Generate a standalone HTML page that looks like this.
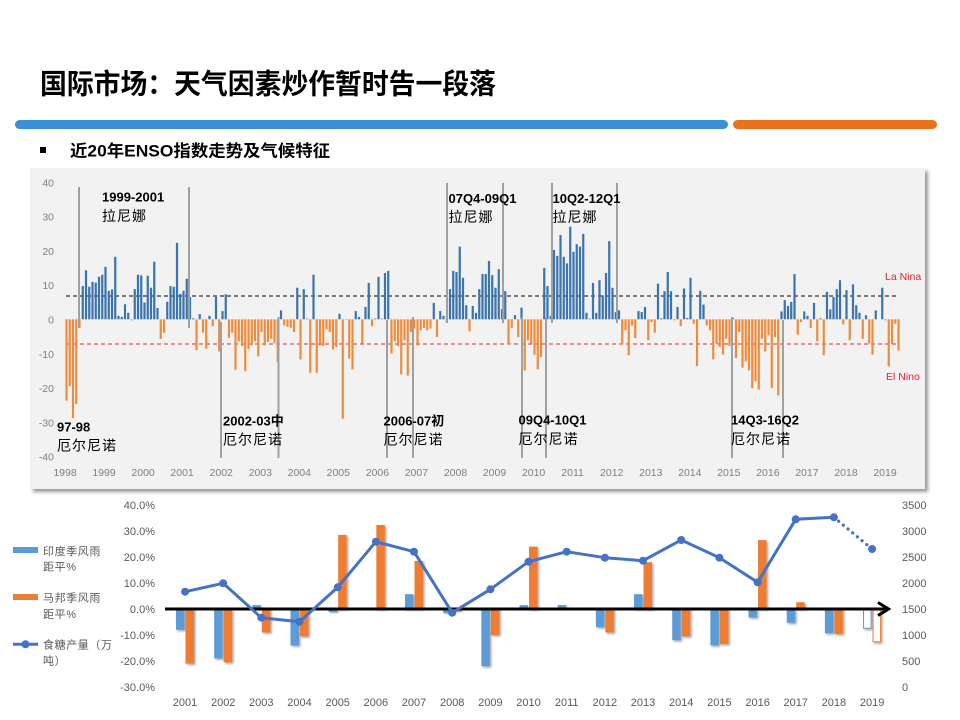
<!DOCTYPE html>
<html><head><meta charset="utf-8">
<style>
html,body{margin:0;padding:0;background:#fff;width:960px;height:720px;overflow:hidden;}
svg{display:block;}
text{font-family:"Liberation Sans","Noto Sans CJK SC",sans-serif;}
.cjk{font-family:"Noto Sans CJK SC",sans-serif;}
</style></head>
<body>
<svg id="s" width="960" height="720" viewBox="0 0 960 720" xmlns="http://www.w3.org/2000/svg">
<defs>
<filter id="sh" x="-5%" y="-5%" width="110%" height="115%"><feGaussianBlur stdDeviation="1.8"/></filter>
<filter id="bs" x="-60%" y="-20%" width="220%" height="150%"><feDropShadow dx="1.5" dy="1.5" stdDeviation="1" flood-color="#000" flood-opacity="0.35"/></filter>
</defs>
<rect width="960" height="720" fill="#fff"/>

<!-- header -->
<text x="40" y="93.5" font-size="28" font-weight="bold" textLength="456" lengthAdjust="spacingAndGlyphs" fill="#000">国际市场：天气因素炒作暂时告一段落</text>
<rect x="15" y="120" width="713" height="9" rx="4.5" fill="#3b8fd6"/>
<rect x="733" y="120" width="204" height="9" rx="4.5" fill="#e8731f"/>
<rect x="40" y="147" width="6" height="6" fill="#000"/>
<text x="70" y="156.5" font-size="16.5" font-weight="bold" textLength="260" lengthAdjust="spacingAndGlyphs" fill="#000">近20年ENSO指数走势及气候特征</text>

<!-- top panel -->
<rect x="33" y="171" width="895" height="321" fill="#777" opacity="0.75" filter="url(#sh)"/>
<rect x="30" y="168" width="895" height="321" fill="#f2f2f2"/>

<g font-size="10.5" fill="#7f7f7f" text-anchor="end">
<text x="54" y="186.3">40</text>
<text x="54" y="220.6">30</text>
<text x="54" y="254.9">20</text>
<text x="54" y="289.2">10</text>
<text x="54" y="323.5">0</text>
<text x="54" y="357.8">-10</text>
<text x="54" y="392.1">-20</text>
<text x="54" y="426.4">-30</text>
<text x="54" y="460.7">-40</text>
</g>
<g id="xl" font-size="10.5" fill="#7f7f7f" text-anchor="middle"></g>

<line x1="66" y1="296" x2="897" y2="296" stroke="#000" stroke-width="1" stroke-dasharray="4 3"/>
<line x1="66" y1="344" x2="897" y2="344" stroke="#e0282a" stroke-width="1" stroke-dasharray="4 3"/>

<g id="bars"></g>

<g stroke="#a0a0a0" stroke-width="2">
<line x1="79" y1="187" x2="79" y2="328"/>
<line x1="189" y1="187" x2="189" y2="328"/>
<line x1="221" y1="322" x2="221" y2="458"/>
<line x1="278.5" y1="317" x2="278.5" y2="458"/>
<line x1="387" y1="320" x2="387" y2="458"/>
<line x1="413" y1="317" x2="413" y2="458"/>
<line x1="447" y1="183" x2="447" y2="323"/>
<line x1="503" y1="183" x2="503" y2="323"/>
<line x1="522" y1="317" x2="522" y2="458"/>
<line x1="546" y1="317" x2="546" y2="458"/>
<line x1="552" y1="183" x2="552" y2="323"/>
<line x1="617" y1="183" x2="617" y2="323"/>
<line x1="732" y1="317" x2="732" y2="458"/>
<line x1="783" y1="320" x2="783" y2="458"/>
</g>

<g fill="#000">
<text x="102" y="201.7" font-size="13" font-weight="bold">1999-2001</text>
<text x="102" y="221" font-size="14" class="cjk" letter-spacing="1">拉尼娜</text>
<text x="57" y="431.4" font-size="13" font-weight="bold">97-98</text>
<text x="57" y="450.3" font-size="14" class="cjk" letter-spacing="1">厄尔尼诺</text>
<text x="223" y="425.4" font-size="13" font-weight="bold">2002-03中</text>
<text x="223" y="444.3" font-size="14" class="cjk" letter-spacing="1">厄尔尼诺</text>
<text x="383.5" y="425.4" font-size="13" font-weight="bold">2006-07初</text>
<text x="383.5" y="444.3" font-size="14" class="cjk" letter-spacing="1">厄尔尼诺</text>
<text x="448.5" y="203" font-size="13" font-weight="bold">07Q4-09Q1</text>
<text x="448.5" y="222" font-size="14" class="cjk" letter-spacing="1">拉尼娜</text>
<text x="552.5" y="203" font-size="13" font-weight="bold">10Q2-12Q1</text>
<text x="552.5" y="222" font-size="14" class="cjk" letter-spacing="1">拉尼娜</text>
<text x="518.5" y="424.7" font-size="13" font-weight="bold">09Q4-10Q1</text>
<text x="518.5" y="444" font-size="14" class="cjk" letter-spacing="1">厄尔尼诺</text>
<text x="731" y="424.7" font-size="13" font-weight="bold">14Q3-16Q2</text>
<text x="731" y="444" font-size="14" class="cjk" letter-spacing="1">厄尔尼诺</text>
</g>
<text x="885" y="280" font-size="10.5" fill="#e0202e">La Nina</text>
<text x="886" y="380" font-size="10.5" fill="#e0202e">El Nino</text>

<!-- bottom chart -->
<g font-size="11" fill="#595959" text-anchor="end">
<text x="155" y="509">40.0%</text>
<text x="155" y="535">30.0%</text>
<text x="155" y="561">20.0%</text>
<text x="155" y="587">10.0%</text>
<text x="155" y="613">0.0%</text>
<text x="155" y="639">-10.0%</text>
<text x="155" y="665">-20.0%</text>
<text x="155" y="691">-30.0%</text>
</g>
<g font-size="11" fill="#595959">
<text x="902" y="509">3500</text>
<text x="902" y="535">3000</text>
<text x="902" y="561">2500</text>
<text x="902" y="587">2000</text>
<text x="902" y="613">1500</text>
<text x="902" y="639">1000</text>
<text x="902" y="665">500</text>
<text x="902" y="691">0</text>
</g>
<g id="bxl" font-size="11" fill="#595959" text-anchor="middle"></g>

<!-- legend -->
<rect x="13" y="547" width="25" height="6" fill="#5b9bd5"/>
<rect x="13" y="594" width="25" height="6" fill="#ed7d31"/>
<line x1="13" y1="644.3" x2="38" y2="644.3" stroke="#4472c4" stroke-width="3"/>
<circle cx="25.5" cy="644.3" r="4" fill="#4472c4"/>
<g font-size="11" fill="#595959" class="cjk" letter-spacing="0.6">
<text x="43" y="555">印度季风雨</text>
<text x="43" y="570.5">距平%</text>
<text x="43" y="601.5">马邦季风雨</text>
<text x="43" y="618">距平%</text>
<text x="43" y="648.5">食糖产量（万</text>
<text x="43" y="664.5">吨）</text>
</g>

<g id="bbars"></g>

<line x1="165" y1="609" x2="887" y2="609" stroke="#000" stroke-width="3"/>
<polyline points="878,602.5 888.5,609 878,615.5" fill="none" stroke="#000" stroke-width="3"/>

<g id="bline"></g>
</svg>

<script>
(function(){
var ns='http://www.w3.org/2000/svg';
function el(tag,attrs,parent){var e=document.createElementNS(ns,tag);for(var k in attrs)e.setAttribute(k,attrs[k]);parent.appendChild(e);return e;}
var d=[-23.7,-19.5,-28.8,-24.7,-2.5,9.7,14.3,9.5,10.9,10.7,12.4,13,15.3,8.3,8.7,18.2,1,0.7,4.4,1.9,
-0.3,8.8,13,12.8,4.9,12.7,9.2,16.8,3.3,-5.7,-3.9,5.1,9.7,9.5,22.3,7.4,8.3,11.8,6.5,0.3,
-9,1.5,-3.9,-8.6,1,-2,6.5,-9.4,2.4,7.3,-5.4,-3.9,-14.7,-6.4,-7.8,-15.1,-8.6,-7.6,-6.4,-10.8,
-3.7,-7.6,-6.6,-5.7,-7,-12.5,2.6,-1.8,-2.2,-2.5,-3.7,9.2,-11.7,8.8,0.2,-15.6,13,-15.6,-7.6,-7.8,
-2.9,-3.7,-8.8,-8.1,1.6,-29,0.1,-11.5,-14.6,2.4,0.7,-7.1,3.6,10.6,-2,0.2,12.4,0.2,13.5,14.1,
-10,-6.4,-7.8,-16.1,-6.1,-16.4,-3.7,-2.7,-7.6,-3.2,-2.5,-3.2,-2.7,4.8,-5.2,2.4,1,-1,8.8,14.1,
13.8,21.2,12.1,4.1,-3.5,3.9,1.9,8.8,13.2,13.2,17,12.9,9.2,14.6,3,8.2,-7.4,-2.5,1.2,-5.2,
3.4,-14.9,-6.1,-7.1,-10.3,-14.6,-11,15,9.7,1,20.2,18.5,24.6,18.2,16.3,27,19.7,21.9,21.2,24.9,
1.9,0.2,10.6,1.9,11.4,7,13.5,22.8,9.2,2.1,2.6,-7.4,-3.2,-10.5,-1.8,-5.5,2.4,2.1,3.6,-6.1,
-0.8,-3.9,10.4,0.3,8.2,13.8,8.2,-0.3,3.6,-2,9,0.4,12.1,-1.3,-13.6,8.3,4.3,-1.8,-3.2,-11.7,
-7.1,-8.1,-10.3,-5.7,-7.8,0.4,-11.3,-3.7,-14.1,-12.3,-14.9,-20.1,-18.1,-20.5,-5.7,-9.4,-4.7,-20,-5.2,-22.2,
2.3,5.6,3.9,5.1,13.2,-4.5,-0.8,2.3,1,-2.5,4.8,-6.4,0.3,-10.5,8,2.9,6.5,8.8,11.4,-1.5,
8.5,-6.1,10.2,4.1,1.9,-5.7,1.2,-7.1,-10.3,2.6,0,9.2,-0.3,-13.7,-7.1,-1.3,-9.1];
var g=document.getElementById('bars');
for(var i=0;i<d.length;i++){var v=d[i];if(v===0)continue;var h=Math.abs(v)*3.43;var y=v>=0?319.3-h:319.3;
el('rect',{x:(66.5+3.25*i-1.1).toFixed(2),y:y.toFixed(2),width:'2.2',height:h.toFixed(2),fill:v>=0?'#3a74ad':'#ee8b3d'},g);}
var xl=document.getElementById('xl');
for(var n=1998;n<=2019;n++){var t=el('text',{x:(65+(n-1998)*39.05).toFixed(1),y:'476'},xl);t.textContent=String(n);}

var bb=document.getElementById('bbars');
var B=[[-8,-21],[-19,-20.5],[1.5,-9],[-14,-10.5],[-1.2,28.5],[0,32.3],[5.7,18.5],[-1.5,-1],[-22,-10],[1.5,24],
[1.5,0],[-7,-9],[5.7,18],[-12,-10.5],[-14,-13.5],[-3.3,26.5],[-5.3,2.6],[-9.3,-9.6],[-7.4,-12.6]];
var bxl=document.getElementById('bxl');
var L=[591.7,583.3,617.7,621.7,587.3,541.7,551.7,612.7,589.3,561.7,551.7,557.7,560.7,540,557.7,582.3,519.3,517.3,549];
var pts=[];
for(var k=0;k<19;k++){var c=185+k*38.17;
 var t2=el('text',{x:c.toFixed(1),y:'706'},bxl);t2.textContent=String(2001+k);
 var last=(k===18);
 for(var j=0;j<2;j++){var v2=B[k][j];if(v2===0)continue;var h2=Math.abs(v2)*2.6;var y2=v2>=0?609-h2:609;
  var x2=j===0?c-9:c+0.5;
  if(last){el('rect',{x:(x2+0.5).toFixed(2),y:y2.toFixed(2),width:'7.5',height:h2.toFixed(2),fill:'#fff',stroke:j===0?'#5b9bd5':'#ed7d31','stroke-width':'1',filter:'url(#bs)'},bb);}
  else el('rect',{x:x2.toFixed(2),y:y2.toFixed(2),width:'8.5',height:h2.toFixed(2),fill:j===0?'#5b9bd5':'#ed7d31',filter:'url(#bs)'},bb);}
 pts.push([c,L[k]]);}
var bl=document.getElementById('bline');
var p='';for(var m=0;m<18;m++){p+=(m?' L':'M')+pts[m][0].toFixed(1)+' '+pts[m][1];}
el('path',{d:p,fill:'none',stroke:'#4472c4','stroke-width':'3','stroke-linejoin':'round'},bl);
el('line',{x1:pts[17][0],y1:pts[17][1],x2:pts[18][0],y2:pts[18][1],stroke:'#4472c4','stroke-width':'3.2','stroke-dasharray':'0.1 6','stroke-linecap':'round'},bl);
for(var q=0;q<19;q++){el('circle',{cx:pts[q][0].toFixed(1),cy:pts[q][1],r:'4',fill:'#4472c4'},bl);}
})();
</script>
</body></html>
